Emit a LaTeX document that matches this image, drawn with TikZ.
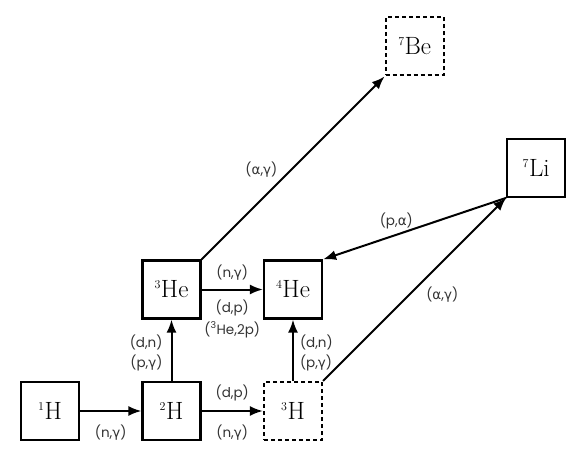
\documentclass[tikz,border=0pt]{standalone}
\usepackage{amsmath}
\usepackage{fontspec}
\usepackage{tikz}
\usetikzlibrary{arrows.meta}
\usetikzlibrary{positioning}
\newfontfamily\reacfont{Poppins}
\newfontfamily\greekfont{DejaVu Sans}
\newcommand{\gr}[1]{{\greekfont #1}}

\begin{document}
\begin{tikzpicture}[->,>={Latex[length=13pt,width=10pt]},line width=2pt,
			node distance=121.5pt,
			nucl/.style={rectangle,draw,line width=2.2pt,minimum size=58pt,
				inner sep=0pt,font=\fontsize{25}{30}\selectfont},
			unstable/.style={nucl,dash pattern=on 4pt off 3pt},
			reac/.style={font=\reacfont\fontsize{13.5}{16}\selectfont,
				text=black!80,inner sep=2pt}]
			\useasboundingbox (0,0) rectangle (572pt,453pt);
			
			\node[nucl] (H1) at (50pt,42pt) {$^{\scriptscriptstyle 1}$H};
			\node[nucl] (H2) [right of=H1] {$^{\scriptscriptstyle 2}$H};
			\node[unstable] (H3) [right of=H2] {$^{\scriptscriptstyle 3}$H};
			\node[nucl] (He3) [above of=H2] {$^{\scriptscriptstyle 3}$He};
			\node[nucl] (He4) [above of=H3] {$^{\scriptscriptstyle 4}$He};
			\node[unstable] (Be7) [above right=183pt and 183pt of He3] {$^{\scriptscriptstyle 7}$Be};
			\node[nucl] (Li7) [above right=183pt and 183pt of H3] {$^{\scriptscriptstyle 7}$Li};
			
			\path
			(H1) edge node[reac,below=11pt] {(n,\gr{γ})} (H2)
			(H2) edge node[reac,above=7pt] {(d,p)}
				node[reac,below=11pt] {(n,\gr{γ})} (H3)
			(H2) edge node[reac,left=6pt,pos=0.63] {(d,n)}
				node[reac,left=6pt,pos=0.3] {(p,\gr{γ})} (He3)
			(He3) edge node[reac,above=6pt] {(n,\gr{γ})}
				node[reac,below=7pt] {(d,p)}
				node[reac,below=29pt] {(\textsuperscript{3}He,2p)} (He4)
			(H3) edge node[reac,right=4pt,pos=0.63] {(d,n)}
				node[reac,right=4pt,pos=0.3] {(p,\gr{γ})} (He4)
			(He3.north east) edge node[reac,above left=0pt,pos=0.43] {(\gr{α},\gr{γ})} (Be7.south west)
			(H3.north east) edge node[reac,below right=2pt,pos=0.54] {(\gr{α},\gr{γ})} (Li7.south west)
			(Li7.south west) edge node[reac,above=3pt,pos=0.6] {(p,\gr{α})} (He4.north east);
		\end{tikzpicture}
\end{document}
